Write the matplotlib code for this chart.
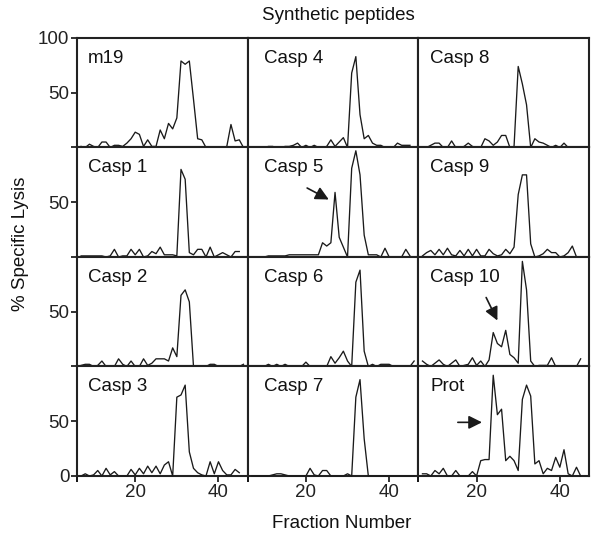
import numpy as np
import matplotlib.pyplot as plt

plt.rcParams['font.family'] = ['Liberation Sans', 'DejaVu Sans']
plt.rcParams['font.size'] = 13.5

# fractions start at 7, one value per fraction
first_fraction = 7

m19 = [1, 0, 3, 1, 0, 5, 5, 0, 2, 2, 1, 4, 8, 14, 12, 1, 7, 1, 1, 16, 8, 22, 17, 27,
       79, 76, 79, 44, 8, 7, 0, 0, 0, 0, 0, 1, 21, 6, 7, 0]
casp4 = [0, 0, 0, 0, 1, 1, 0, 0, 1, 1, 2, 4, 0, 2, 0, 2, 0, 0, 1, 7, 1, 5, 9, 0,
         68, 83, 30, 8, 11, 4, 2, 2, 0, 0, 0, 4, 2, 2, 2]
casp8 = [0, 0, 2, 4, 4, 0, 0, 6, 0, 0, 1, 4, 1, 0, 0, 8, 6, 2, 5, 11, 11, 0, 1,
         74, 58, 39, 0, 8, 5, 4, 2, 0, 2, 0, 4, 0, 0, 0, 0, 0]
casp1 = [1, 1, 1, 1, 1, 1, 0, 1, 7, 0, 1, 1, 7, 2, 7, 0, 1, 5, 3, 9, 2, 2, 2, 1,
         80, 71, 4, 2, 7, 7, 0, 9, 0, 2, 4, 2, 0, 5, 5]
casp5 = [0, 0, 0, 0, 1, 1, 1, 1, 1, 2, 2, 2, 2, 2, 2, 2, 2, 13, 10, 13, 59, 18, 9, 0,
         81, 97, 75, 20, 2, 2, 2, 0, 8, 0, 0, 0, 0, 7, 1]
casp9 = [1, 4, 6, 2, 7, 2, 8, 2, 1, 6, 1, 7, 1, 7, 1, 1, 7, 3, 1, 2, 7, 3, 9,
         57, 75, 75, 12, 0, 1, 3, 7, 4, 4, 0, 1, 4, 10, 0, 0]
casp2 = [1, 2, 2, 0, 1, 5, 0, 0, 0, 7, 2, 0, 5, 0, 0, 7, 1, 3, 7, 7, 7, 5, 17, 9,
         65, 70, 59, 0, 0, 0, 0, 2, 2, 0, 0, 0, 0, 0, 0, 2]
casp6 = [0, 0, 0, 0, 2, 0, 2, 0, 2, 0, 0, 0, 0, 4, 0, 0, 0, 0, 0, 9, 3, 8, 14, 5, 0,
         77, 88, 14, 0, 2, 0, 2, 2, 2, 0, 0, 0, 0, 0, 5]
casp10 = [5, 2, 0, 3, 6, 2, 0, 3, 6, 0, 1, 2, 8, 1, 5, 0, 6, 31, 21, 18, 33, 11, 8, 3,
          96, 70, 5, 0, 1, 1, 1, 8, 0, 0, 0, 0, 0, 0, 7]
casp3 = [0, 2, 0, 1, 5, 0, 7, 1, 4, 0, 0, 0, 6, 1, 7, 2, 9, 3, 9, 2, 10, 13, 0,
         72, 74, 83, 22, 7, 3, 1, 0, 13, 2, 13, 5, 1, 1, 6, 3]
casp7 = [0, 0, 0, 0, 0, 1, 2, 2, 1, 0, 0, 0, 0, 0, 7, 1, 0, 5, 5, 0, 0, 0, 0, 2, 0,
         72, 88, 34, 0, 0, 0, 0, 0, 0, 0, 0, 0, 0, 0, 0]
prot = [2, 2, 0, 5, 2, 7, 0, 0, 5, 0, 0, 0, 4, 0, 14, 15, 15, 92, 56, 61, 14, 18, 14, 5,
        70, 83, 73, 11, 14, 2, 7, 5, 17, 8, 24, 2, 0, 8, 0]

panel_names = [["m19", "Casp 4", "Casp 8"],
               ["Casp 1", "Casp 5", "Casp 9"],
               ["Casp 2", "Casp 6", "Casp 10"],
               ["Casp 3", "Casp 7", "Prot"]]
series = {"m19": m19, "Casp 4": casp4, "Casp 8": casp8,
          "Casp 1": casp1, "Casp 5": casp5, "Casp 9": casp9,
          "Casp 2": casp2, "Casp 6": casp6, "Casp 10": casp10,
          "Casp 3": casp3, "Casp 7": casp7, "Prot": prot}

# arrow tail -> head, in (fraction, % lysis)
arrows = {"Casp 5": ((20.3, 63), (25.5, 52.5)),
          "Casp 10": ((22.3, 63), (25.0, 42)),
          "Prot": ((15.5, 49), (21.3, 49))}

label_dx = [0.064, 0.094, 0.070]
ink = '#1a1a1a'

fig, axes = plt.subplots(4, 3, figsize=(6.01, 5.39), dpi=100,
                         gridspec_kw=dict(wspace=0, hspace=0))
fig.subplots_adjust(left=0.128, right=0.980, top=0.9295, bottom=0.1169)

for r in range(4):
  for c in range(3):
    ax = axes[r, c]
    name = panel_names[r][c]
    y = np.array(series[name])
    x = np.arange(first_fraction, first_fraction + len(y))
    ax.plot(x, y, color=ink, lw=0.95, clip_on=False, zorder=3)
    ax.set_xlim(6, 47)
    ax.set_ylim(0, 100)
    for s in ax.spines.values():
      s.set_linewidth(1.5)
      s.set_color('#222222')
    ax.text(label_dx[c], 0.776, name, transform=ax.transAxes, va='baseline', ha='left', color='#111111')

    if name in arrows:
      tail, head = arrows[name]
      ax.annotate('', xy=head, xytext=tail,
                  arrowprops=dict(arrowstyle='-|>,head_length=0.8,head_width=0.4',
                                  mutation_scale=10, color=ink, lw=1.2,
                                  shrinkA=0, shrinkB=0))

    ax.tick_params(direction='out', length=4, width=1.3, pad=1.5, colors='#222222')

    # y ticks only on the left column
    if c == 0:
      if r == 0:
        ax.set_yticks([0, 50, 100], ['', '50', '100'])
      elif r == 3:
        ax.set_yticks([0, 50], ['0', '50'])
      else:
        ax.set_yticks([0, 50], ['', '50'])
    else:
      ax.set_yticks([])

    # x ticks only on the bottom row
    if r == 3:
      ax.set_xticks([20, 40])
      ax.set_xticks([6], minor=True)
      ax.tick_params(which='minor', direction='out', length=4, width=1.3)
    else:
      ax.set_xticks([])

fig.text(338 / 601, 1 - 15 / 539, 'Synthetic peptides', ha='center', va='center', color='#111111')
fig.text(342 / 601, 1 - 524 / 539, 'Fraction Number', ha='center', va='center', color='#111111')
fig.text(21 / 601, 1 - 244 / 539, '% Specific Lysis', rotation=90, ha='center', va='center', color='#111111')

fig.savefig('out.png', dpi=100)
